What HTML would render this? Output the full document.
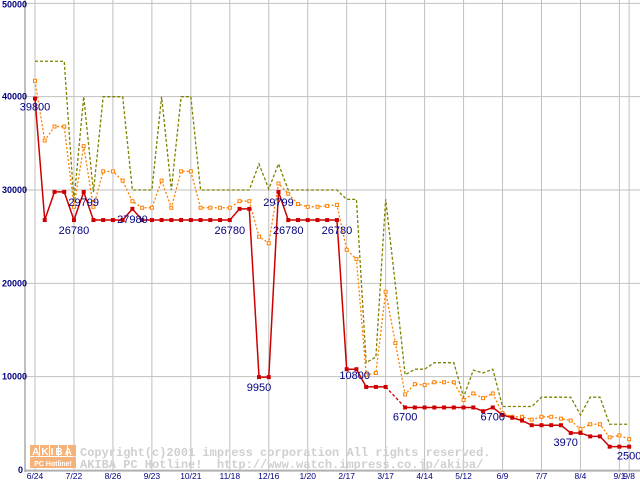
<!DOCTYPE html>
<html><head><meta charset="utf-8"><style>
html,body{margin:0;padding:0;background:#fff;}
svg{display:block;}
text{font-family:"Liberation Sans",sans-serif;}
</style></head><body>
<svg id="chart" width="640" height="480" viewBox="0 0 640 480">
  <g id="grid"></g>
  <g id="wm">
    <g>
      <rect x="30" y="445" width="9" height="11" fill="#f5b27a"/><rect x="40" y="445" width="9" height="11" fill="#f5b27a"/><rect x="50" y="445" width="8" height="11" fill="#f5b27a"/><rect x="59" y="445" width="8" height="11" fill="#f5b27a"/><rect x="68" y="445" width="8" height="11" fill="#f5b27a"/>
      <rect x="30" y="457" width="46" height="11" fill="#f5b27a"/>
      <text x="53" y="455" font-size="10" font-weight="bold" fill="#fff" text-anchor="middle" letter-spacing="2">AKIBA</text>
      <text x="53" y="466" font-size="7" font-weight="bold" fill="#fff" text-anchor="middle">PC Hotline!</text>
    </g>
    <text x="80" y="456" style="font-family:'Liberation Mono',monospace;font-size:12px;font-weight:bold" fill="#cfcfcf">Copyright(c)2001 impress corporation All rights reserved.</text>
    <text x="80" y="468" style="font-family:'Liberation Mono',monospace;font-size:12px;font-weight:bold" fill="#cfcfcf" xml:space="preserve">AKIBA PC Hotline!  http://www.watch.impress.co.jp/akiba/</text>
  </g>
  <g id="series"></g>
  <g id="labels"></g>
</svg>
<script>
const xTickLabels=["6/24","7/22","8/26","9/23","10/21","11/18","12/16","1/20","2/17","3/17","4/14","5/12","6/9","7/7","8/4","9/1","9/8"];
const xTickIdx=[0,4,8,12,16,20,24,28,32,36,40,44,48,52,56,60,61];
const yTicks=[0,10000,20000,30000,40000,50000];
const minPrice=[39800,26780,29799,29799,26780,29799,26780,26780,26780,26780,27980,26780,26780,26780,26780,26780,26780,26780,26780,26780,26780,27980,27980,9950,9950,29799,26780,26780,26780,26780,26780,26780,10800,10800,8900,8900,8900,null,6700,6700,6700,6700,6700,6700,6700,6700,6300,6700,5900,5600,5300,4800,4800,4800,4800,3970,3970,3600,3600,2500,2500,2500];
const avgPrice=[41700,35300,36800,36800,28200,34700,28200,32000,32000,31000,28800,28100,28100,31000,28100,32000,32000,28100,28100,28100,28100,28800,28800,25000,24300,30700,29600,28500,28200,28200,28300,28400,23600,22600,10200,10400,19100,13600,8100,9200,9100,9400,9400,9400,7500,8200,7700,8200,6100,5700,5700,5400,5700,5700,5500,5300,4400,4900,4900,3500,3700,3300];
const maxPrice=[43800,43800,43800,43800,28800,40000,29800,40000,40000,40000,30000,30000,30000,40000,30000,40000,40000,30000,30000,30000,30000,30000,30000,32800,30100,32800,30000,30000,30000,30000,30000,30000,29000,29000,11500,12100,29000,19800,10200,10800,10800,11500,11500,11500,7800,10700,10400,10800,6800,6800,6800,6800,7800,7800,7800,7800,5900,7800,7800,4900,4900,4900];
const annotIdx=[0,5,4,10,20,25,26,31,23,32,38,47,55,61];
const annotText=["39800","29799","26780","27980","26780","29799","26780","26780","9950","10800","6700","6700","3970","2500"];
const annotDx=[0,0,0,0,0,0,0,0,0,8,0,0,-5,0];
const annotDy=[12,14,14,14,14,14,14,14,14,10,13,13,13,13];

const NS="http://www.w3.org/2000/svg";
function X(i){return 35+i*9.74;}
function Y(v){return 470-v*0.009333;}
function mk(tag,attrs,parent){const e=document.createElementNS(NS,tag);for(const k in attrs)e.setAttribute(k,attrs[k]);parent.appendChild(e);return e;}
const grid=document.getElementById('grid'),series=document.getElementById('series'),labels=document.getElementById('labels');

yTicks.forEach((v,k)=>{
  const l=mk('line',{x1:25,x2:640,y1:Y(v),y2:Y(v),stroke:'#c0c0c0','stroke-width':1},grid);
  
  
  const t=mk('text',{x:v===0?23:27,y:Y(v)+(v===50000?4:3),'font-size':9,'font-weight':'bold',fill:'#000080','text-anchor':'end'},labels);
  t.textContent=String(v);
  
  
});
xTickIdx.forEach((i,k)=>{
  const l=mk('line',{x1:X(i),x2:X(i),y1:0,y2:472,stroke:'#c0c0c0','stroke-width':1},grid);
  
  
  const t=mk('text',{x:X(i),y:479,'font-size':8.5,fill:'#000080','text-anchor':'middle'},labels);
  t.textContent=xTickLabels[k];
  
  
});
const ax=mk('line',{x1:25,x2:25,y1:0,y2:472,stroke:'#808080','stroke-width':1},grid);


const bx=mk('line',{x1:25,x2:640,y1:471,y2:471,stroke:'#a0a0a0','stroke-width':1},grid);



function line(arr,color,dash,name){
  let pts=[];
  arr.forEach((v,i)=>{if(v!==null)pts.push(X(i)+','+Y(v));});
  const p=mk('polyline',{points:pts.join(' '),fill:'none',stroke:color,'stroke-width':1.3},series);
  if(dash)p.setAttribute('stroke-dasharray',dash);
  
  
}
line(maxPrice,'#808000','3,2','max-price-line');
line(avgPrice,'#ff8000','2,2','avg-price-line');
let seg=[];
minPrice.forEach((v,i)=>{
  if(v===null)return;
  if(i>0&&minPrice[i-1]===null){
    let j=i-1;while(j>=0&&minPrice[j]===null)j--;
    const d=mk('line',{x1:X(j),y1:Y(minPrice[j]),x2:X(i),y2:Y(v),stroke:'#cc0000','stroke-width':1.3,'stroke-dasharray':'3,2'},series);
    
    
    const p=mk('polyline',{points:seg.join(' '),fill:'none',stroke:'#cc0000','stroke-width':1.5},series);
    
    
    seg=[];
  }
  seg.push(X(i)+','+Y(v));
});
const pl=mk('polyline',{points:seg.join(' '),fill:'none',stroke:'#cc0000','stroke-width':1.5},series);



avgPrice.forEach((v,i)=>{
  if(v===null)return;
  const r=mk('rect',{x:X(i)-1.5,y:Y(v)-1.5,width:3,height:3,fill:'#fff',stroke:'#ff8000','stroke-width':1},series);
  
  
});
minPrice.forEach((v,i)=>{
  if(v===null)return;
  const r=mk('rect',{x:X(i)-2,y:Y(v)-2,width:4,height:4,fill:'#cc0000'},series);
  
  
});
annotIdx.forEach((i,k)=>{
  const t=mk('text',{x:X(i)+annotDx[k],y:Y(minPrice[i])+annotDy[k],'font-size':11,fill:'#000080','text-anchor':'middle'},labels);
  t.textContent=annotText[k];
  
  
});
</script>
</body></html>
